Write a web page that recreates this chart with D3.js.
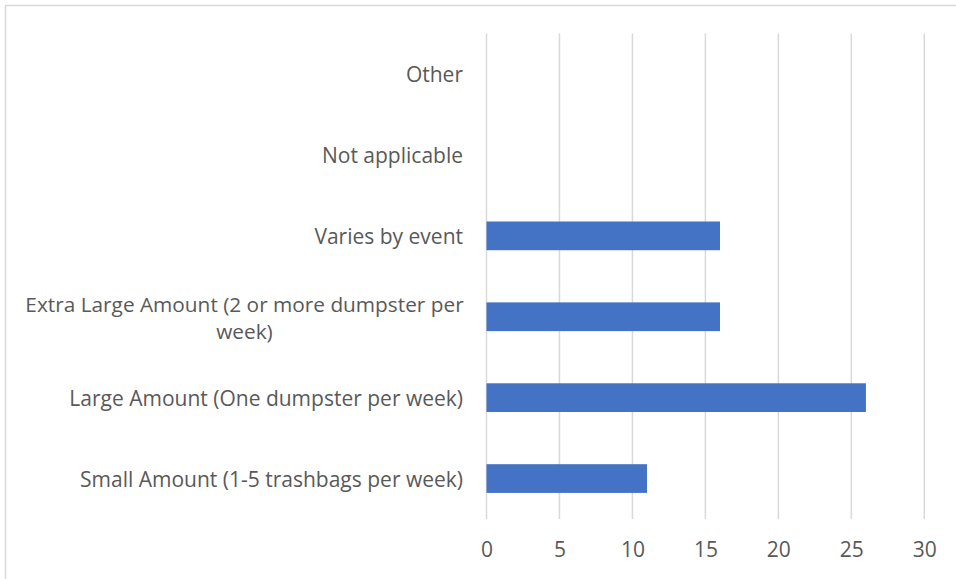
<!DOCTYPE html>
<html>
<head>
<meta charset="utf-8">
<script src="https://cdn.jsdelivr.net/npm/d3@7"></script>
<style>
  body { margin: 0; background: #fff; }
  svg { display: block; font-family: "Open Sans", sans-serif; }
</style>
</head>
<body>
<svg id="chart" width="956" height="579"></svg>
<script>
// data, top to bottom as in the chart
var categories = [
    "Other",
    "Not applicable",
    "Varies by event",
    "Extra Large Amount (2 or more dumpster per week)",
    "Large Amount (One dumpster per week)",
    "Small Amount (1-5 trashbags per week)"
];
var counts = [0, 0, 16, 16, 26, 11];
var xTicks = [0, 5, 10, 15, 20, 25, 30];

// labels that wrap onto two lines in the original
var wrapLines = {
    "Extra Large Amount (2 or more dumpster per week)": ["Extra Large Amount (2 or more dumpster per", "week)"]
};

var svg = d3.select("#chart");
// note: "top" is taken by window.top, so plot edges get their own names
var plotLeft = 486.5, plotRight = 924.3, plotTop = 33.6, plotBottom = 519;
var textColor = "#595959";

// chart border (only top/left visible)
svg.append("rect")
    .attr("x", 5.5)
    .attr("y", 5.5)
    .attr("width", 1000)
    .attr("height", 1000)
    .attr("fill", "none")
    .attr("stroke", "#d9d9d9")
    .attr("stroke-width", 1.5);

var xScale = d3.scaleLinear()
    .domain([0, 30])
    .range([plotLeft, plotRight]);

var yScale = d3.scaleBand()
    .domain(categories)
    .range([plotTop, plotBottom])
    .paddingInner(0.645)
    .paddingOuter(0.3225);

// gridlines
svg.append("g")
    .attr("class", "grid")
    .selectAll("line")
    .data(xTicks)
    .enter()
    .append("line")
    .attr("x1", function(d){ return xScale(d); })
    .attr("x2", function(d){ return xScale(d); })
    .attr("y1", plotTop)
    .attr("y2", plotBottom)
    .attr("stroke", "#d9d9d9")
    .attr("stroke-width", 1.5);

// bars
svg.append("g")
    .selectAll("rect")
    .data(counts)
    .enter()
    .append("rect")
    .attr("x", xScale(0))
    .attr("y", function(d, i){ return yScale(categories[i]); })
    .attr("width", function(d){ return xScale(d) - xScale(0); })
    .attr("height", yScale.bandwidth())
    .attr("fill", "#4472c4");

// x axis labels
var xAxis = d3.axisBottom(xScale).tickValues(xTicks).tickSize(0).tickPadding(0);
var xg = svg.append("g")
    .attr("transform", "translate(0," + 550 + ")")
    .call(xAxis);
xg.select(".domain").remove();
xg.selectAll("text")
    .attr("fill", textColor)
    .attr("font-size", 21)
    .attr("font-family", "Open Sans, sans-serif")
    .attr("dy", "0.35em")
    .attr("y", 0);

// category labels
var labels = svg.append("g");
categories.forEach(function(c){
    var cy = yScale(c) + yScale.bandwidth() / 2 + 1;
    var lines = wrapLines[c];
    if (lines) {
        var t = labels.append("text")
            .attr("fill", textColor)
            .attr("font-size", 20.8)
            .attr("text-anchor", "middle")
            .attr("y", cy - 13.5)
            .attr("dy", "0.35em");
        t.append("tspan").attr("x", 244.5).text(lines[0]);
        t.append("tspan").attr("x", 244.5).attr("dy", 27).text(lines[1]);
    } else {
        labels.append("text")
            .attr("fill", textColor)
            .attr("font-size", 21)
            .attr("text-anchor", "end")
            .attr("x", 463)
            .attr("y", cy)
            .attr("dy", "0.35em")
            .text(c);
    }
});
</script>
</body>
</html>
